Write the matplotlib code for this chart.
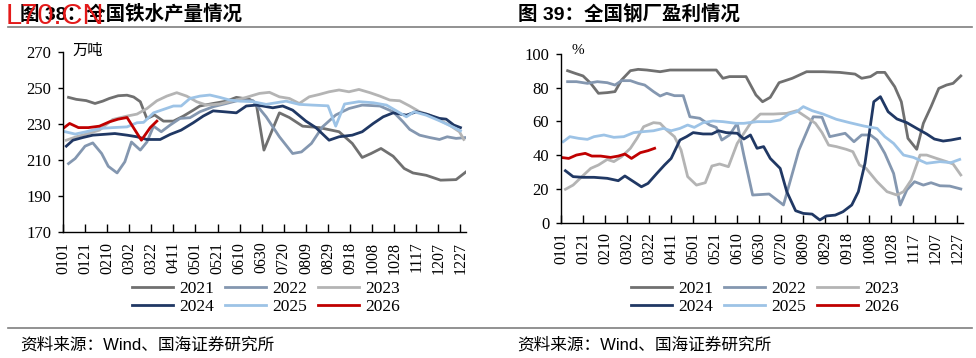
import matplotlib.pyplot as plt
from matplotlib.lines import Line2D

plt.rcParams['font.family'] = ['Liberation Serif', 'Noto Sans CJK SC']

# x axis: day of year, labelled every 20 days
tick_days = list(range(0, 361, 20))
tick_labels = ['0101', '0121', '0210', '0302', '0322', '0411', '0501', '0521', '0610', '0630',
               '0720', '0809', '0829', '0918', '1008', '1028', '1117', '1207', '1227']
years = ['2021', '2022', '2023', '2024', '2025', '2026']
colors = ['#707070', '#8497b0', '#b4b4b4', '#203864', '#9dc3e6', '#c00000']

# ---- 图38 全国铁水产量 (万吨) ----
iron_2021_d = [5, 12, 21, 29, 36, 42, 50, 58, 64, 70, 76, 83, 91, 100, 109, 118, 124, 136, 148, 157,
               169, 175, 182, 196, 205, 217, 232, 250, 262, 271, 279, 288, 299, 309, 317, 329, 342, 356, 365]
iron_2021 = [244.8, 243.7, 243.0, 241.4, 242.7, 244.2, 245.7, 246.0, 245.0, 242.4, 233.0, 235.0, 231.6,
             231.6, 234.4, 237.7, 240.0, 241.4, 242.7, 244.8, 243.7, 241.4, 215.5, 236.2, 233.6, 228.8,
             228.0, 225.7, 219.2, 211.4, 213.6, 216.4, 212.1, 205.3, 202.8, 201.5, 198.8, 199.1, 203.4]
iron_2022_d = [5, 11, 20, 27, 35, 41, 49, 56, 62, 70, 76, 82, 89, 97, 106, 115, 124, 136, 148, 160,
               172, 184, 196, 208, 216, 225, 235, 247, 259, 271, 287, 299, 308, 314, 323, 332, 341, 348, 356, 365]
iron_2022 = [208.0, 210.8, 217.7, 219.5, 213.6, 206.5, 202.8, 209.0, 220.0, 215.5, 220.0, 228.8, 225.7,
             229.4, 233.1, 233.5, 236.8, 239.6, 241.4, 243.3, 243.0, 234.0, 222.9, 213.6, 214.5, 219.2,
             228.4, 235.0, 238.6, 240.5, 240.0, 236.8, 231.2, 227.0, 223.8, 222.5, 221.4, 222.9, 222.0, 222.5]
iron_2023_d = [3, 12, 21, 33, 45, 58, 67, 76, 85, 94, 103, 112, 121, 130, 142, 154, 166, 178, 187, 196,
               205, 214, 223, 232, 241, 250, 259, 268, 278, 287, 296, 305, 314, 323, 332, 341, 350, 359, 363]
iron_2023 = [221.0, 222.9, 224.4, 226.6, 232.5, 234.4, 235.5, 238.6, 242.9, 245.5, 247.4, 245.5, 242.4,
             240.5, 241.1, 242.9, 244.8, 247.0, 247.6, 245.1, 244.2, 241.4, 245.1, 246.4, 247.9, 248.9,
             247.9, 249.2, 247.4, 245.5, 243.3, 242.9, 240.0, 236.8, 235.0, 232.2, 229.4, 225.7, 221.4]
iron_2024_d = [3, 9, 18, 27, 36, 47, 58, 67, 76, 88, 97, 107, 118, 127, 136, 146, 157, 166, 175, 181,
               190, 199, 208, 220, 229, 241, 250, 262, 271, 281, 290, 299, 311, 320, 329, 341, 347, 354, 360]
iron_2024 = [217.7, 221.0, 222.5, 223.8, 224.2, 224.7, 223.8, 222.9, 221.4, 221.4, 224.2, 226.6, 230.7,
             234.4, 237.3, 236.8, 236.2, 240.0, 240.5, 240.0, 239.0, 240.0, 237.7, 231.6, 228.0, 221.0,
             222.9, 223.8, 225.7, 230.3, 234.0, 236.2, 234.9, 236.8, 235.5, 233.1, 232.7, 229.4, 228.0]
iron_2025_d = [2, 11, 21, 33, 45, 58, 67, 73, 82, 91, 100, 107, 115, 124, 133, 142, 151, 160, 172, 184,
               193, 202, 214, 226, 240, 247, 255, 268, 281, 293, 302, 311, 318, 329, 341, 353, 360]
iron_2025 = [225.7, 224.4, 225.7, 227.5, 228.0, 228.4, 230.7, 230.9, 236.2, 238.1, 240.0, 240.0, 244.2,
             245.5, 246.1, 244.8, 243.3, 242.7, 242.4, 240.9, 241.8, 242.7, 240.9, 240.5, 240.1, 228.8,
             241.1, 242.4, 241.8, 240.5, 237.3, 234.0, 236.8, 234.9, 231.8, 228.4, 226.2]
iron_2026_d = [0, 6, 14, 23, 33, 42, 50, 58, 71, 79, 85]
iron_2026 = [227.5, 230.3, 228.0, 228.0, 228.8, 231.2, 232.7, 233.6, 221.0, 228.0, 231.6]

# ---- 图39 全国钢厂盈利 (%) ----
prof_2021_d = [6, 13, 20, 27, 34, 42, 49, 55, 63, 70, 78, 90, 99, 111, 129, 141, 147, 153, 168, 177,
               183, 190, 198, 210, 223, 238, 253, 267, 273, 281, 287, 294, 303, 309, 315, 323, 329, 336,
               343, 350, 356, 363]
prof_2021 = [90.1, 88.5, 87.0, 82.6, 76.7, 77.1, 77.7, 84.6, 90.1, 90.9, 90.5, 89.5, 90.5, 90.5, 90.5,
             90.5, 85.6, 86.6, 86.6, 75.7, 71.7, 74.3, 83.0, 85.6, 89.5, 89.5, 89.1, 88.1, 85.6, 86.6,
             89.1, 89.1, 80.6, 71.7, 50.0, 43.5, 58.9, 68.8, 79.6, 81.6, 82.6, 87.0]
prof_2022_d = [6, 14, 24, 33, 42, 49, 55, 63, 70, 76, 84, 90, 96, 103, 111, 117, 126, 135, 141, 146,
               153, 160, 166, 174, 189, 202, 216, 229, 237, 244, 258, 266, 273, 281, 287, 294, 302, 308,
               314, 321, 329, 336, 344, 353, 363]
prof_2022 = [83.6, 83.6, 82.6, 83.6, 83.0, 81.6, 84.2, 84.2, 82.6, 81.6, 77.7, 75.1, 76.7, 75.3, 75.3,
             62.8, 61.9, 57.9, 56.5, 49.0, 52.0, 58.9, 40.0, 16.4, 17.0, 10.5, 43.0, 62.8, 62.5, 51.0,
             53.0, 48.0, 52.0, 52.0, 49.0, 41.1, 29.2, 10.5, 19.4, 24.3, 22.3, 23.7, 21.9, 21.7, 20.0]
prof_2023_d = [4, 11, 19, 27, 34, 42, 48, 55, 63, 69, 75, 84, 90, 96, 103, 109, 115, 123, 131, 137,
               144, 152, 160, 172, 181, 193, 205, 214, 223, 231, 237, 243, 250, 259, 265, 271, 277, 287,
               296, 305, 311, 318, 326, 332, 341, 350, 356, 363]
prof_2023 = [19.8, 22.3, 27.3, 32.2, 34.2, 37.5, 36.2, 39.1, 44.1, 50.0, 56.9, 59.3, 58.9, 54.9, 51.0,
             43.1, 27.3, 22.3, 23.7, 33.6, 34.8, 33.2, 47.0, 58.9, 64.4, 64.4, 64.8, 66.4, 62.5, 58.9,
             53.4, 46.0, 45.1, 43.5, 42.1, 34.2, 32.2, 24.3, 18.4, 16.4, 18.4, 25.3, 40.1, 40.1, 38.1,
             36.2, 34.8, 28.3]
prof_2024_d = [4, 11, 20, 30, 42, 52, 58, 66, 73, 79, 87, 94, 100, 108, 114, 120, 129, 137, 143, 150,
               160, 166, 172, 178, 184, 190, 199, 205, 213, 220, 228, 235, 241, 249, 256, 264, 270, 276,
               284, 290, 297, 305, 314, 323, 332, 339, 347, 354, 362]
prof_2024 = [30.8, 27.3, 26.9, 26.9, 26.3, 24.9, 27.7, 24.3, 21.3, 23.3, 29.2, 34.2, 38.1, 49.0, 51.0,
             53.4, 52.6, 52.6, 54.5, 53.4, 53.0, 49.6, 52.0, 44.1, 45.1, 38.1, 32.2, 18.4, 7.1, 5.5,
             5.1, 1.6, 4.0, 4.5, 6.5, 10.5, 18.4, 35.2, 71.7, 74.7, 65.8, 61.5, 59.3, 55.9, 52.6,
             49.6, 48.4, 49.0, 50.0]
prof_2025_d = [2, 8, 16, 24, 30, 39, 48, 57, 66, 75, 84, 93, 100, 108, 115, 121, 129, 138, 147, 159,
               166, 178, 190, 199, 207, 214, 220, 228, 238, 250, 262, 275, 287, 294, 302, 311, 320, 332,
               344, 354, 362]
prof_2025 = [48.0, 51.0, 50.0, 49.4, 51.0, 52.0, 50.6, 51.0, 53.4, 54.0, 54.5, 55.9, 54.5, 55.9, 57.9,
             56.5, 59.3, 60.3, 59.9, 58.9, 58.9, 59.9, 59.9, 60.9, 64.4, 65.8, 68.8, 66.4, 64.4, 61.3,
             59.3, 57.3, 55.9, 51.0, 47.0, 40.1, 38.7, 35.2, 36.2, 35.6, 37.5]
prof_2026_d = [0, 7, 14, 22, 28, 36, 45, 52, 58, 64, 72, 79, 85]
prof_2026 = [38.7, 38.1, 40.1, 41.1, 39.5, 39.5, 38.7, 39.5, 40.7, 38.1, 41.5, 42.7, 44.1]

W, H = 976, 358
fig = plt.figure(figsize=(W / 100, H / 100), dpi=100)


def draw_panel(rect, series, ylim, yticks, unit, unit_x, legend_x):
    ax = fig.add_axes(rect)
    handles = []
    for (d, v), c, y in zip(series, colors, years):
        h, = ax.plot(d, v, color=c, lw=2.0, label=y, solid_joinstyle='round')
        handles.append(h)
    ax.set_xlim(0, 365)
    ax.set_ylim(*ylim)
    ax.set_yticks(yticks)
    ax.set_xticks(tick_days)
    ax.set_xticklabels(tick_labels, rotation=90)
    for s in ['top', 'right']:
        ax.spines[s].set_visible(False)
    for s in ['left', 'bottom']:
        ax.spines[s].set_linewidth(1.0)
    ax.tick_params(axis='y', direction='out', length=3.5, width=1.0, labelsize=12, pad=5)
    ax.tick_params(axis='x', direction='in', length=6, width=1.0, labelsize=11.5, pad=7)
    # legend row by row: 2021 2022 2023 / 2024 2025 2026
    order = [0, 3, 1, 4, 2, 5]
    ax.legend([handles[i] for i in order], [years[i] for i in order], ncol=3,
              loc='center', bbox_to_anchor=(legend_x, 1 - 298 / H), bbox_transform=fig.transFigure,
              frameon=False, fontsize=12.5, handlelength=2.4, handletextpad=0.35,
              columnspacing=0.6, labelspacing=0.15)
    fig.text(unit_x / W, 1 - 51 / H, unit, fontsize=11, ha='left', va='center',
             family=['Liberation Serif', 'Noto Sans CJK SC'])
    return ax


iron = [(iron_2021_d, iron_2021), (iron_2022_d, iron_2022), (iron_2023_d, iron_2023),
        (iron_2024_d, iron_2024), (iron_2025_d, iron_2025), (iron_2026_d, iron_2026)]
prof = [(prof_2021_d, prof_2021), (prof_2022_d, prof_2022), (prof_2023_d, prof_2023),
        (prof_2024_d, prof_2024), (prof_2025_d, prof_2025), (prof_2026_d, prof_2026)]

draw_panel([63 / W, 1 - 232 / H, 403 / W, 180 / H], iron, (170, 270), range(170, 271, 20),
           '万吨', 72, 266 / W)
draw_panel([561 / W, 1 - 222.7 / H, 402 / W, 168.7 / H], prof, (0, 100), range(0, 101, 20),
           '%', 572, 765 / W)

# titles, rules and source notes
title_font = ['Liberation Sans', 'Noto Sans CJK SC']
fig.text(20 / W, 1 - 14 / H, '图 38：全国铁水产量情况', fontsize=14, fontweight='bold',
         family=title_font, ha='left', va='center')
fig.text(518 / W, 1 - 14 / H, '图 39：全国钢厂盈利情况', fontsize=14, fontweight='bold',
         family=title_font, ha='left', va='center')
for yy in [27, 328]:
    fig.add_artist(Line2D([8 / W, 972 / W], [1 - yy / H, 1 - yy / H], color='#7f7f7f', lw=1.2))
fig.text(20 / W, 1 - 345 / H, '资料来源：Wind、国海证券研究所', fontsize=12,
         family=title_font, ha='left', va='center')
fig.text(517 / W, 1 - 345 / H, '资料来源：Wind、国海证券研究所', fontsize=12,
         family=title_font, ha='left', va='center')

# watermark
fig.text(6 / W, 1 - 16 / H, 'L70.CN', fontsize=21, color='#e41a1a', family='Liberation Sans',
         ha='left', va='center')

fig.savefig('out.png', dpi=100)
